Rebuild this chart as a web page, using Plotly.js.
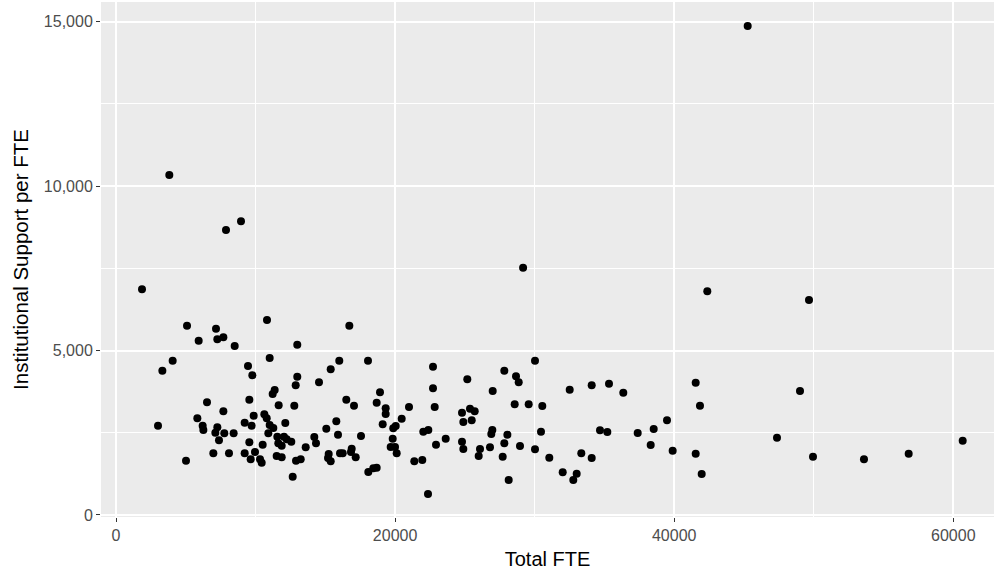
<!DOCTYPE html>
<html>
<head>
<meta charset="utf-8">
<script src="https://cdn.plot.ly/plotly-3.0.1.min.js"></script>
<style>html,body{margin:0;padding:0;background:#fff;}#chart{width:994px;height:573px;}</style>
</head>
<body>
<div id="chart"></div>
<script>
// Total FTE (x) and Institutional Support per FTE (y)
var totalFTE = [
  5090,7166,10820,5924,7262,7693,8505,11012,4060,3322,9459,9770,11370,11226,9555,6521,11657,7693,9866,5829,
  10630,10800,3010,6210,6260,7262,7120,9220,9720,7760,8430,7380,11012,11275,10916,11560,11630,9555,10510,6975,
  8097,9220,9960,9650,10320,10440,11513,5016,
  16720,12990,16000,18058,15385,22716,12990,12877,14547,22716,18918,16503,17055,18680,19325,19325,20996,22838,12777,20472,
  19111,19870,20043,15787,15070,15908,12132,11874,12038,12230,12562,14210,14332,13594,17556,19828,19684,19993,20114,22931,
  23626,22021,22380,11874,12900,13236,15241,15193,15385,16052,16245,16890,16840,17177,18080,18438,18680,12662,21376,21949,
  22358,
  30025,27826,25174,28664,28857,26994,32512,34088,35328,28570,29573,30548,24794,25367,25704,24890,25490,26966,26894,28045,
  30455,34683,35208,24794,24890,26084,25990,26800,27826,28950,30025,27710,31050,33343,34088,32010,33012,32770,28140,
  42372,49660,36353,41540,41848,49015,39484,38531,37385,38316,39890,41540,41970,47366,49946,53600,56803,60673,
  3820,7882,8957,1863,45266,29172
];
var supportPerFTE = [
  5754,5663,5927,5298,5340,5401,5137,4772,4690,4386,4529,4246,3799,3678,3505,3425,3334,3151,3019,2939,
  3061,2939,2714,2714,2584,2665,2502,2806,2714,2483,2483,2270,2736,2644,2483,2380,2179,2209,2137,1875,
  1875,1875,1915,1693,1693,1590,1793,1650,
  5754,5176,4690,4690,4428,4508,4204,3942,4033,3851,3729,3505,3322,3413,3243,3070,3283,3283,3322,2927,
  2757,2635,2705,2848,2623,2441,2796,2106,2380,2300,2228,2371,2179,2058,2401,2319,2067,2067,1875,2137,
  2319,2532,2584,1754,1650,1693,1854,1733,1632,1875,1875,2015,1915,1754,1307,1419,1438,1164,1632,1672,
  638,
  4690,4386,4125,4216,4033,3769,3809,3942,3991,3365,3365,3313,3109,3231,3152,2827,2878,2584,2462,2441,
  2532,2574,2523,2228,2006,2006,1793,2058,2179,2097,1997,1772,1742,1875,1733,1298,1255,1064,1064,
  6799,6535,3717,4021,3322,3769,2878,2614,2492,2128,1955,1863,1246,2350,1772,1693,1863,2258,
  10334,8663,8927,6860,14863,7517
];
var xTickVals = [0, 20000, 40000, 60000];
var yTickVals = [0, 5000, 10000, 15000];
var xTitle = "Total FTE";
var yTitle = "Institutional Support per FTE";

var trace = {
  x: totalFTE, y: supportPerFTE,
  type: "scatter", mode: "markers",
  marker: {color: "#000000", size: 8, line: {width: 0}},
  hoverinfo: "x+y"
};

var layout = {
  width: 994, height: 573,
  margin: {l: 101, r: 0, t: 2, b: 56, pad: 0},
  paper_bgcolor: "#ffffff",
  plot_bgcolor: "#EBEBEB",
  font: {family: "Liberation Sans, Arial, sans-serif", color: "#4D4D4D"},
  showlegend: false,
  xaxis: {
    range: [-1075, 62917],
    tickvals: xTickVals, tickformat: "d",
    ticks: "outside", ticklen: 4, tickwidth: 1, tickcolor: "#333333",
    tickfont: {size: 16, color: "#4D4D4D"},
    showgrid: true, gridcolor: "#FFFFFF", gridwidth: 2,
    minor: {tickvals: [10000, 30000, 50000], showgrid: true, gridcolor: "#FFFFFF", gridwidth: 1, ticks: ""},
    zeroline: false, showline: false,
    title: {text: xTitle, font: {size: 20, color: "#000000"}, standoff: 8}
  },
  yaxis: {
    range: [-61, 15593],
    tickvals: yTickVals, tickformat: ",d",
    ticks: "outside", ticklen: 4, tickwidth: 1, tickcolor: "#333333",
    tickfont: {size: 16, color: "#4D4D4D"},
    showgrid: true, gridcolor: "#FFFFFF", gridwidth: 2,
    minor: {tickvals: [2500, 7500, 12500], showgrid: true, gridcolor: "#FFFFFF", gridwidth: 1, ticks: ""},
    zeroline: false, showline: false,
    title: {text: yTitle, font: {size: 20.5, color: "#000000"}, standoff: 9}
  }
};

Plotly.newPlot("chart", [trace], layout, {displayModeBar: false, staticPlot: true});
</script>
</body>
</html>
